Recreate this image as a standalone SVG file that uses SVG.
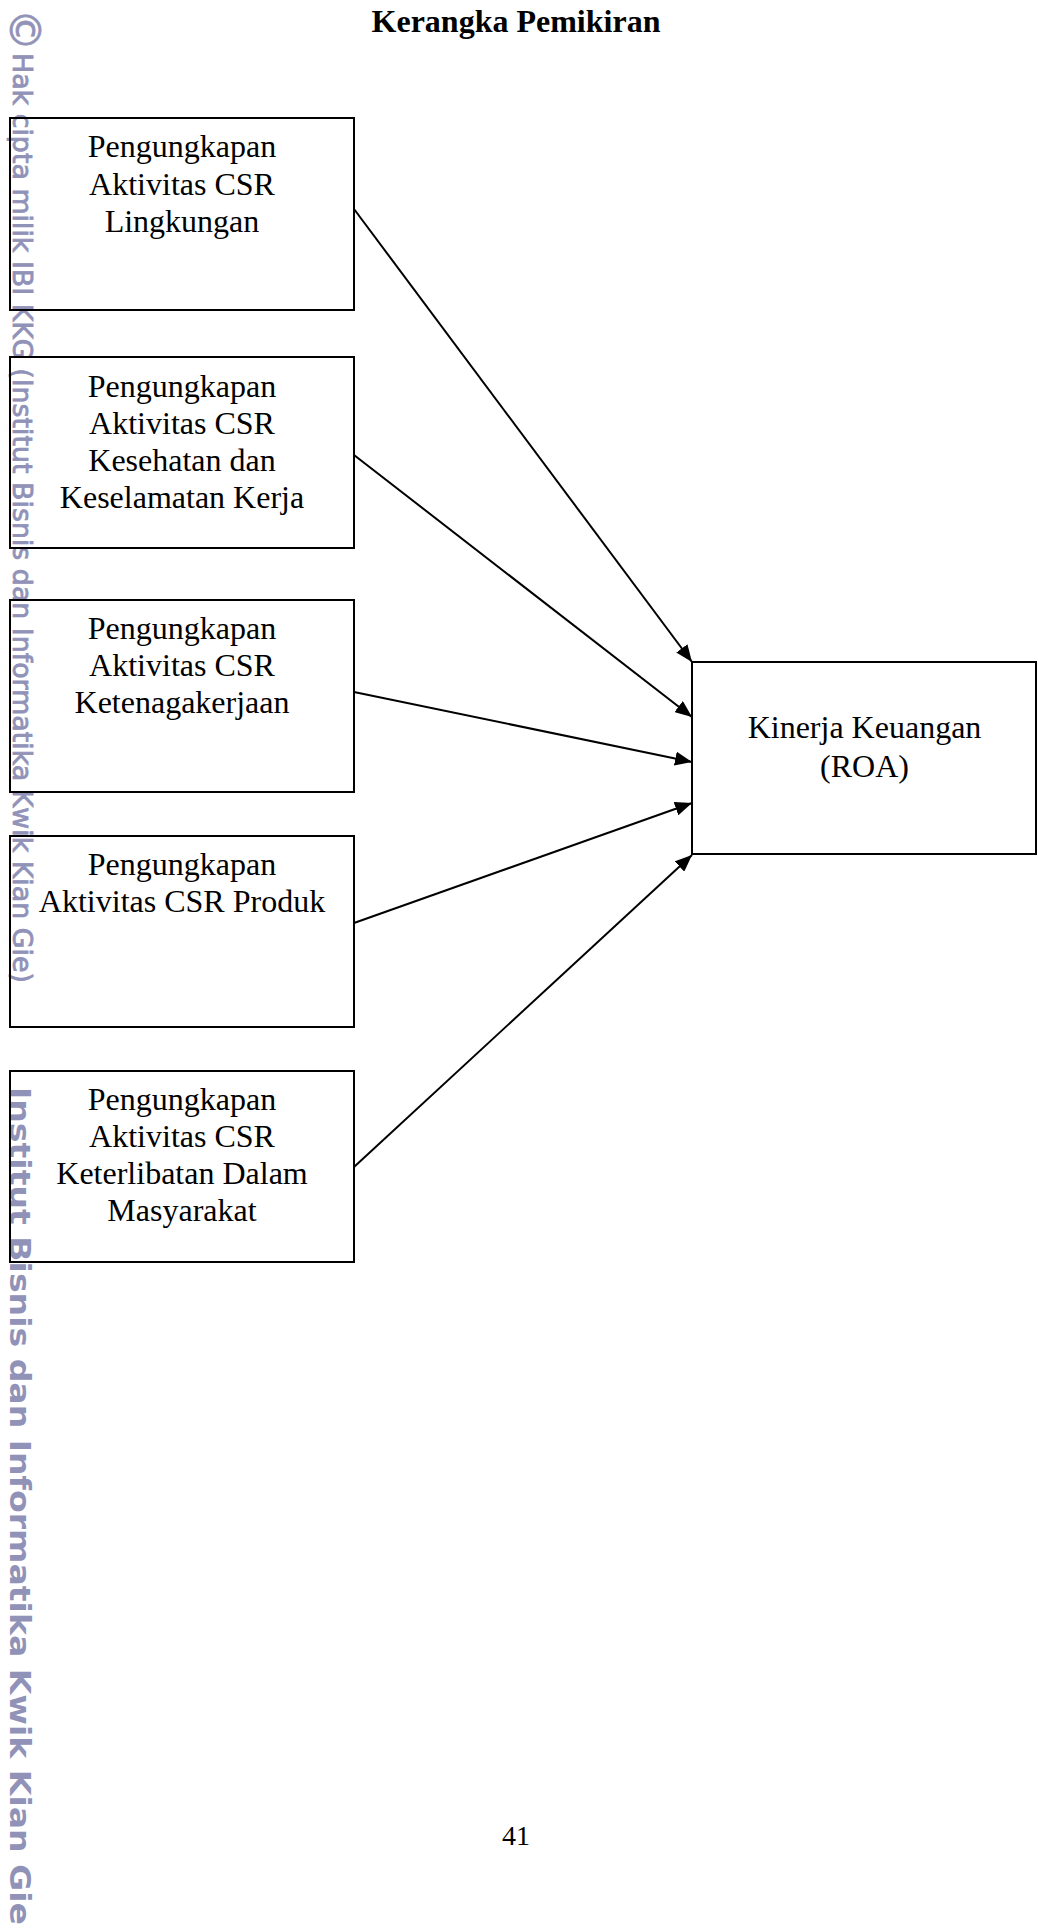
<svg xmlns="http://www.w3.org/2000/svg" width="1038" height="1928" viewBox="0 0 1038 1928">
<style>
.box{fill:none;stroke:#000;stroke-width:2}
.lbl{font-family:"Liberation Serif","Times New Roman",serif;font-size:32px;fill:#000;text-anchor:middle}
.wm{font-family:"DejaVu Sans",sans-serif;fill:#9192b8}
.wmt{stroke:#9192b8;stroke-width:0.8}
.con{stroke:#000;stroke-width:2;fill:none;marker-end:url(#arr)}
</style>
<defs>
<marker id="arr" markerUnits="userSpaceOnUse" markerWidth="18" markerHeight="14" refX="17" refY="7" orient="auto">
<path d="M0,0 L17,7 L0,14 z" fill="#000"/>
</marker>
</defs>
<rect width="1038" height="1928" fill="#fff"/>
<g id="watermark">
<text class="wm wmt" font-size="42" transform="translate(24,30) rotate(90)" text-anchor="middle" dominant-baseline="central">©</text>
<text class="wm wmt" font-size="26" transform="translate(13,53) rotate(90)" textLength="930" lengthAdjust="spacingAndGlyphs">Hak cipta milik IBI KKG (Institut Bisnis dan Informatika Kwik Kian Gie)</text>
<text class="wm" font-size="29" font-weight="bold" transform="translate(10,1087) rotate(90)" textLength="838" lengthAdjust="spacingAndGlyphs">Institut Bisnis dan Informatika Kwik Kian Gie</text>
</g>
<text id="title" x="516" y="32" font-family="Liberation Serif, Times New Roman, serif" font-size="32" font-weight="bold" text-anchor="middle">Kerangka Pemikiran</text>
<g id="n1">
<rect class="box" x="10" y="118" width="344" height="192"/>
<text class="lbl"><tspan x="182" y="157">Pengungkapan</tspan><tspan x="182" y="194.5">Aktivitas CSR</tspan><tspan x="182" y="232">Lingkungan</tspan></text>
</g>
<g id="n2">
<rect class="box" x="10" y="357" width="344" height="191"/>
<text class="lbl"><tspan x="182" y="396.5">Pengungkapan</tspan><tspan x="182" y="433.5">Aktivitas CSR</tspan><tspan x="182" y="470.5">Kesehatan dan</tspan><tspan x="182" y="507.5">Keselamatan Kerja</tspan></text>
</g>
<g id="n3">
<rect class="box" x="10" y="600" width="344" height="192"/>
<text class="lbl"><tspan x="182" y="639">Pengungkapan</tspan><tspan x="182" y="676">Aktivitas CSR</tspan><tspan x="182" y="713">Ketenagakerjaan</tspan></text>
</g>
<g id="n4">
<rect class="box" x="10" y="836" width="344" height="191"/>
<text class="lbl"><tspan x="182" y="875">Pengungkapan</tspan><tspan x="182" y="912">Aktivitas CSR Produk</tspan></text>
</g>
<g id="n5">
<rect class="box" x="10" y="1071" width="344" height="191"/>
<text class="lbl"><tspan x="182" y="1109.5">Pengungkapan</tspan><tspan x="182" y="1146.5">Aktivitas CSR</tspan><tspan x="182" y="1183.5">Keterlibatan Dalam</tspan><tspan x="182" y="1220.5">Masyarakat</tspan></text>
</g>
<g id="n6">
<rect class="box" x="692" y="662" width="344" height="192"/>
<text class="lbl"><tspan x="864.5" y="738">Kinerja Keuangan</tspan><tspan x="864.5" y="777">(ROA)</tspan></text>
</g>
<g id="connectors">
<line class="con" x1="354" y1="209" x2="692" y2="662"/>
<line class="con" x1="354" y1="455" x2="692" y2="717"/>
<line class="con" x1="354" y1="692" x2="692" y2="762"/>
<line class="con" x1="354" y1="923" x2="692" y2="803"/>
<line class="con" x1="354" y1="1167" x2="692" y2="855"/>
</g>
<text id="page" x="516" y="1845" font-family="Liberation Serif, Times New Roman, serif" font-size="28" text-anchor="middle">41</text>
</svg>
